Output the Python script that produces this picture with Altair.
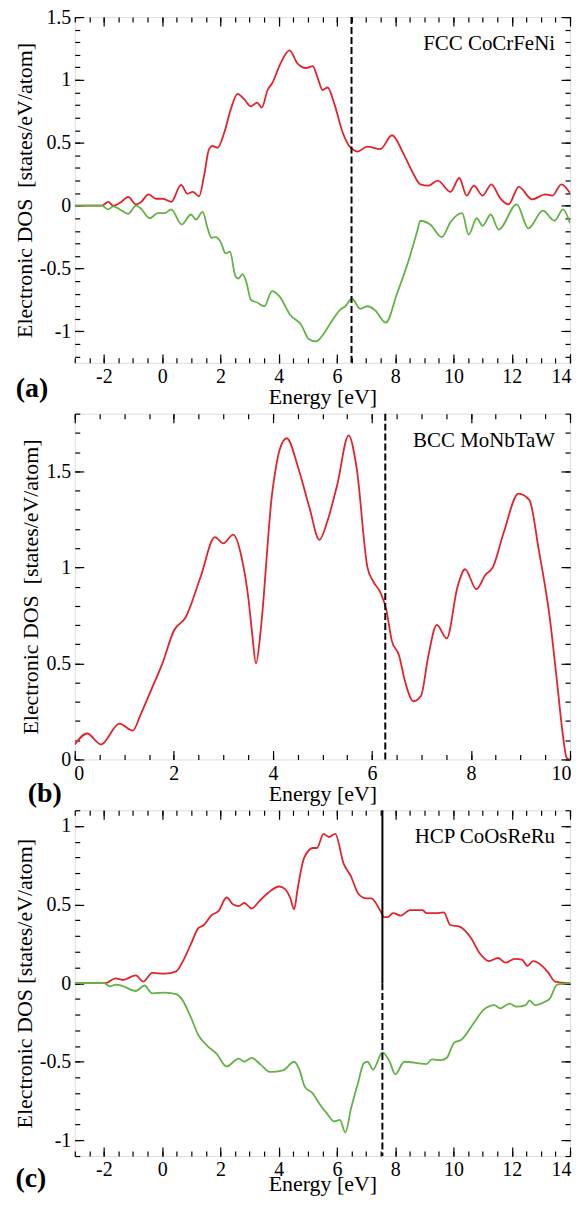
import altair as alt
import pandas as pd

FONT = "Liberation Serif"
RED = "#e3232b"
GREEN = "#62b246"

# ---------------- data ----------------
# (a) FCC CoCrFeNi
a_up_E = [-3.0, -2.07, -1.85, -1.68, -1.4, -1.17, -0.89, -0.72, -0.47, -0.21, 0.02, 0.31, 0.65, 0.87, 1.05, 1.27,
          1.44, 1.61, 1.73, 1.9, 2.13, 2.36, 2.59, 2.82, 3.05, 3.26, 3.42, 3.62, 3.79, 4.06, 4.37, 4.65, 4.94, 5.17,
          5.34, 5.51, 5.68, 5.91, 6.2, 6.42, 6.6, 6.7, 7.04, 7.49, 7.89, 8.29, 8.63, 8.86, 9.15, 9.46, 9.9, 10.2,
          10.45, 10.7, 11.0, 11.3, 11.6, 11.89, 12.24, 12.7, 13.15, 13.4, 13.7, 14.0]
a_up_V = [0.0, 0.0, 0.03, 0.0, 0.03, 0.07, 0.01, 0.03, 0.09, 0.055, 0.055, 0.03, 0.165, 0.095, 0.11, 0.075,
          0.24, 0.45, 0.475, 0.46, 0.58, 0.77, 0.89, 0.845, 0.79, 0.82, 0.78, 0.92, 0.98, 1.13, 1.235, 1.13, 1.095, 1.11,
          1.015, 0.92, 0.94, 0.81, 0.58, 0.475, 0.44, 0.43, 0.47, 0.45, 0.56, 0.41, 0.25, 0.17, 0.16, 0.2, 0.11, 0.22,
          0.08, 0.16, 0.08, 0.17, 0.06, 0.01, 0.15, 0.05, 0.09, 0.08, 0.17, 0.1]
a_dn_E = [-3.0, -2.07, -1.85, -1.68, -1.45, -1.17, -0.89, -0.72, -0.43, -0.15, 0.08, 0.31, 0.67, 0.99, 1.16, 1.39,
          1.56, 1.69, 1.84, 2.01, 2.18, 2.33, 2.5, 2.61, 2.76, 2.88, 3.05, 3.26, 3.51, 3.77, 4.02, 4.4, 4.78, 5.03,
          5.28, 5.54, 5.79, 6.1, 6.29, 6.51, 6.8, 7.05, 7.3, 7.68, 8.06, 8.44, 8.76, 8.86, 9.2, 9.6, 9.9, 10.3, 10.52,
          10.8, 11.0, 11.28, 11.55, 12.17, 12.57, 13.07, 13.47, 13.76, 14.0]
a_dn_V = [0.0, 0.0, -0.03, -0.005, -0.03, -0.065, 0.0, -0.025, -0.1, -0.06, -0.06, -0.03, -0.15, -0.07, -0.11, -0.05,
          -0.18, -0.255, -0.25, -0.29, -0.38, -0.365, -0.55, -0.58, -0.545, -0.6, -0.75, -0.77, -0.8, -0.68, -0.72,
          -0.87, -0.95, -1.06, -1.08, -1.02, -0.93, -0.83, -0.8, -0.74, -0.82, -0.8, -0.83, -0.93, -0.7, -0.45, -0.2,
          -0.12, -0.15, -0.25, -0.13, -0.06, -0.23, -0.1, -0.16, -0.07, -0.19, 0.01, -0.18, -0.04, -0.12, -0.03, -0.14]

# (b) BCC MoNbTaW
b_E = [0.0, 0.25, 0.53, 0.9, 1.17, 1.34, 1.54, 1.77, 2.0, 2.24, 2.54, 2.83, 3.0, 3.2, 3.37, 3.51, 3.58, 3.66,
       3.75, 3.81, 3.87, 3.97, 4.04, 4.14, 4.28, 4.51, 4.74, 4.94, 5.1, 5.3, 5.53, 5.69, 5.91, 6.03, 6.17, 6.29,
       6.4, 6.55, 6.66, 6.84, 6.99, 7.14, 7.31, 7.51, 7.73, 7.88, 8.11, 8.29, 8.44, 8.66, 8.96, 9.18, 9.37, 9.59,
       9.74, 9.85, 9.93, 9.98]
b_V = [0.078, 0.135, 0.078, 0.187, 0.15, 0.24, 0.36, 0.5, 0.67, 0.74, 0.95, 1.157, 1.125, 1.17, 1.05, 0.83, 0.66,
       0.5, 0.66, 0.83, 1.036, 1.35, 1.485, 1.615, 1.672, 1.52, 1.31, 1.143, 1.24, 1.43, 1.687, 1.52, 1.0, 0.925,
       0.87, 0.78, 0.62, 0.54, 0.415, 0.303, 0.33, 0.54, 0.70, 0.63, 0.9, 0.99, 0.886, 0.96, 1.0, 1.18, 1.384, 1.35,
       1.09, 0.74, 0.4, 0.14, 0.01, 0.0]

# (c) HCP CoOsReRu
c_up_E = [-3.0, -1.95, -1.6, -1.35, -0.9, -0.65, -0.34, 0.1, 0.48, 0.74, 0.99, 1.24, 1.43, 1.68, 1.94, 2.21, 2.44,
          2.63, 2.82, 3.07, 3.33, 3.64, 4.02, 4.21, 4.4, 4.53, 4.65, 4.88, 5.18, 5.31, 5.54, 5.72, 5.94, 6.23, 6.48,
          6.73, 6.99, 7.18, 7.49, 7.62, 7.74, 7.93, 8.19, 8.5, 8.94, 9.07, 9.38, 9.67, 9.89, 10.21, 10.59, 10.9,
          11.22, 11.53, 11.79, 12.1, 12.35, 12.54, 12.73, 13.04, 13.24, 13.49, 14.0]
c_up_V = [0.0, 0.0, 0.03, 0.02, 0.05, 0.01, 0.065, 0.06, 0.075, 0.15, 0.25, 0.35, 0.37, 0.43, 0.46, 0.545, 0.5,
          0.49, 0.51, 0.475, 0.52, 0.575, 0.615, 0.6, 0.54, 0.47, 0.6, 0.8, 0.86, 0.86, 0.95, 0.93, 0.95, 0.76, 0.68,
          0.57, 0.54, 0.54, 0.46, 0.42, 0.42, 0.445, 0.43, 0.465, 0.465, 0.445, 0.445, 0.45, 0.37, 0.36, 0.29, 0.19,
          0.14, 0.16, 0.13, 0.155, 0.15, 0.11, 0.14, 0.11, 0.07, 0.01, 0.0]
c_dn_E = [-3.0, -2.0, -1.79, -1.6, -1.41, -0.9, -0.61, -0.34, 0.1, 0.48, 0.67, 0.99, 1.24, 1.56, 1.87, 2.21, 2.63,
          2.82, 3.07, 3.39, 3.71, 4.15, 4.53, 4.71, 4.9, 5.16, 5.41, 5.66, 5.91, 6.1, 6.29, 6.48, 6.73, 6.92, 7.05,
          7.24, 7.56, 7.81, 8.0, 8.31, 8.82, 9.07, 9.26, 9.58, 9.77, 10.02, 10.27, 10.71, 11.03, 11.41, 11.6, 11.92,
          12.17, 12.48, 12.61, 12.8, 13.12, 13.3, 13.56, 14.0]
c_dn_V = [0.0, 0.0, -0.02, -0.01, -0.015, -0.05, -0.015, -0.065, -0.06, -0.07, -0.1, -0.22, -0.33, -0.4, -0.45,
          -0.53, -0.48, -0.5, -0.475, -0.52, -0.565, -0.555, -0.5, -0.55, -0.66, -0.7, -0.77, -0.83, -0.88, -0.87,
          -0.95, -0.8, -0.63, -0.51, -0.5, -0.55, -0.44, -0.5, -0.58, -0.5, -0.51, -0.515, -0.485, -0.49, -0.475,
          -0.38, -0.36, -0.25, -0.17, -0.14, -0.16, -0.13, -0.15, -0.14, -0.11, -0.14, -0.12, -0.1, -0.01, 0.0]

fermi = [6.5, 6.27, 7.56]
names = ["FCC CoCrFeNi", "BCC MoNbTaW", "HCP CoOsReRu"]
tags = ["(a)", "(b)", "(c)"]
x_title = "Energy [eV]"
y_titles = ["Electronic DOS\u00a0 [states/eV/atom]", "Electronic DOS\u00a0 [states/eV/atom]",
            "Electronic DOS [states/eV/atom]"]

x_ticks_a = [-2, 0, 2, 4, 6, 8, 10, 12, 14]
x_ticks_b = [0, 2, 4, 6, 8, 10]
y_ticks_a = [-1, -0.5, 0, 0.5, 1, 1.5]
y_ticks_b = [0, 0.5, 1, 1.5]
y_ticks_c = [-1, -0.5, 0, 0.5, 1]


def steps(lo, hi, st):
    n = int(round((hi - lo) / st))
    return [round(lo + k * st, 3) for k in range(n + 1)]


W = 497
H = 347


def panel(lines, xdom, ydom, xmaj, xmin, ymaj, ymin, fer, name, tag, ytitle, split=False,
          tagx=-44, tagy=26, xtp=0):
    h = H
    xs = alt.Scale(domain=xdom, nice=False, zero=False)
    ys = alt.Scale(domain=ydom, nice=False, zero=False)
    base = dict(grid=False, domain=False, tickColor="black", tickWidth=1.2, labelOverlap=False,
                minExtent=0)

    def ax(orient, vals, size, labels=False, title=None, **kw):
        d = dict(base)
        d.update(orient=orient, values=vals, tickSize=size, offset=-size, labels=labels, title=title)
        if labels:
            d.update(labelFont=FONT, labelFontSize=20, labelColor="black", labelPadding=4,
                     labelExpr="'' + datum.value")
        d.update(kw)
        return alt.Axis(**d)

    specs = [
        (ax("bottom", xmaj, 9, True, x_title, titleFont=FONT, titleFontSize=22, titleFontWeight="normal",
            titleColor="black", titlePadding=xtp, labelFlush=True, labelFlushOffset=1),
         ax("left", ymaj, 9, True, ytitle, titleFont=FONT, titleFontSize=22, titleFontWeight="normal",
            titleColor="black", titlePadding=3, labelFlush=False)),
        (ax("bottom", xmin, 5), ax("left", ymin, 5)),
        (ax("top", xmaj, 9), ax("right", ymaj, 9)),
        (ax("top", xmin, 5), ax("right", ymin, 5)),
    ]
    axis_layers = [
        alt.Chart(lines).mark_point(opacity=0, size=1).encode(
            x=alt.X("E:Q", scale=xs, axis=xa), y=alt.Y("V:Q", scale=ys, axis=ya))
        for xa, ya in specs
    ]

    curves = alt.Chart(lines).mark_line(strokeWidth=1.8, interpolate="monotone", clip=True).encode(
        x=alt.X("E:Q", scale=xs, axis=None),
        y=alt.Y("V:Q", scale=ys, axis=None),
        color=alt.Color("spin:N", scale=alt.Scale(domain=["up", "down"], range=[RED, GREEN]), legend=None),
    )

    fdf = pd.DataFrame({"E": [fer], "V0": [0.0]})
    if split:
        r1 = alt.Chart(fdf).mark_rule(color="black", strokeWidth=2).encode(
            x=alt.X("E:Q", scale=xs, axis=None), y=alt.Y("V0:Q", scale=ys, axis=None), y2=alt.value(0))
        r2 = alt.Chart(fdf).mark_rule(color="black", strokeWidth=2, strokeDash=[7, 3]).encode(
            x=alt.X("E:Q", scale=xs, axis=None), y=alt.Y("V0:Q", scale=ys, axis=None), y2=alt.value(h))
        rules = [r1, r2]
    else:
        rules = [alt.Chart(fdf).mark_rule(color="black", strokeWidth=2, strokeDash=[7, 3]).encode(
            x=alt.X("E:Q", scale=xs, axis=None))]

    # invisible horizontal anchor fixing the left/right extent of the drawing (total width 564 px)
    anchor = alt.Chart(pd.DataFrame({"k": [0]})).mark_rule(opacity=0, strokeWidth=0, color="white").encode(
        x=alt.value(-66), x2=alt.value(W + 1), y=alt.value(h / 2))

    name_t = alt.Chart(pd.DataFrame({"t": [name]})).mark_text(
        align="right", baseline="middle", font=FONT, fontSize=21, color="black").encode(
        x=alt.value(W - 15), y=alt.value(27), text="t:N")
    tag_t = alt.Chart(pd.DataFrame({"t": [tag]})).mark_text(
        align="center", baseline="middle", font=FONT, fontSize=28, fontWeight="bold", color="black").encode(
        x=alt.value(tagx), y=alt.value(h + tagy), text="t:N")

    return alt.layer(*axis_layers, curves, *rules, anchor, name_t, tag_t).resolve_axis(
        x="independent", y="independent").properties(width=W, height=h)


df_a = pd.concat([pd.DataFrame({"E": a_up_E, "V": a_up_V, "spin": "up"}),
                  pd.DataFrame({"E": a_dn_E, "V": a_dn_V, "spin": "down"})], ignore_index=True)
df_b = pd.DataFrame({"E": b_E, "V": b_V, "spin": "up"})
df_c = pd.concat([pd.DataFrame({"E": c_up_E, "V": c_up_V, "spin": "up"}),
                  pd.DataFrame({"E": c_dn_E, "V": c_dn_V, "spin": "down"})], ignore_index=True)

pa = panel(df_a, [-3, 14], [-1.25, 1.5], x_ticks_a, steps(-3, 14, 0.5), y_ticks_a, steps(-1.2, 1.5, 0.1),
           fermi[0], names[0], tags[0], y_titles[0], tagx=-43, tagy=26, xtp=0)
pb = panel(df_b, [0, 10], [0, 1.8], x_ticks_b, steps(0, 10, 0.5), y_ticks_b, steps(0, 1.8, 0.1),
           fermi[1], names[1], tags[1], y_titles[1], tagx=-30, tagy=35, xtp=0)
pc = panel(df_c, [-3, 14], [-1.1, 1.1], x_ticks_a, steps(-3, 14, 0.5), y_ticks_c, steps(-1.1, 1.1, 0.1),
           fermi[2], names[2], tags[2], y_titles[2], split=True, tagx=-44, tagy=23, xtp=-6)

PAD = {"left": 0, "top": -4, "right": 0, "bottom": -1}
chart = alt.vconcat(pa, pb, pc, spacing=51, bounds="flush").configure_view(
    stroke="black", strokeWidth=1.5).configure(padding=PAD).properties(padding=PAD, background="white")

chart.save("out.html", embed_options={"renderer": "svg", "actions": False})
